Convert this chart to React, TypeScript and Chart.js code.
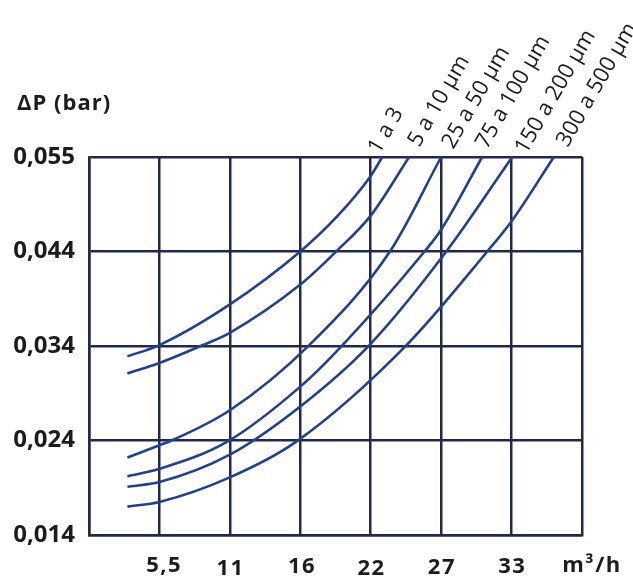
import { useEffect, useRef } from "react";
import { Chart, registerables } from "chart.js";

Chart.register(...registerables);

// Series names (filtration grades)
const seriesNames = ["1 a 3", "5 a 10 µm", "25 a 50 µm", "75 a 100 µm", "150 a 200 µm", "300 a 500 µm"];

// Flow (m³/h, axis units) and pressure drop (bar) for each curve
const flow1 = [3.0, 5.5, 11, 16.5, 19.3, 22, 22.9];
const dp1 = [0.0329, 0.0341, 0.0384, 0.044, 0.0476, 0.052, 0.054];

const flow2 = [3.0, 5.5, 8.9, 11, 16.5, 19.3, 22, 25.0];
const dp2 = [0.0311, 0.0322, 0.0341, 0.0354, 0.0405, 0.044, 0.0478, 0.054];

const flow3 = [3.0, 5.5, 6.45, 11, 17.2, 23.5, 27.5];
const dp3 = [0.0222, 0.0235, 0.024, 0.0272, 0.0341, 0.044, 0.054];

const flow4 = [3.0, 5.5, 10.7, 16.5, 19.8, 26.2, 27.5, 30.7];
const dp4 = [0.0202, 0.021, 0.0238, 0.0297, 0.0341, 0.044, 0.0463, 0.054];

const flow5 = [3.0, 5.5, 11, 16.5, 21.9, 27.9, 33.05];
const dp5 = [0.0191, 0.0196, 0.0225, 0.0276, 0.0341, 0.044, 0.054];

const flow6 = [3.0, 5.5, 11, 16.1, 24.8, 31.1, 33.0, 36.3];
const dp6 = [0.017, 0.0175, 0.0201, 0.0238, 0.0341, 0.044, 0.0472, 0.054];

const flows = [flow1, flow2, flow3, flow4, flow5, flow6];
const dps = [dp1, dp2, dp3, dp4, dp5, dp6];

// Axis ticks
const xGridValues = [0, 5.5, 11, 16.5, 22, 27.5, 33, 38.5];
const xTickValues = [5.5, 11, 16.5, 22, 27.5, 33];
const xTickLabels = ["5,5", "11", "16", "22", "27", "33"];
const yTickValues = [0.014, 0.024, 0.034, 0.044, 0.054];
const yTickLabels = ["0,014", "0,024", "0,034", "0,044", "0,055"];
const xUnit = "m³/h";
const yTitle = "ΔP (bar)";

// Styles (not data)
const GRID = "#232848";
const CURVE = "#25408a";
const TEXT = "#1c1c1c";
const xLabelDrop = [31, 34, 31.5, 34, 33, 31.5];
const xLabelShift = [4, 0, 1, 0, 0, 0];
const seriesLabelOffset = [
  [-3, -2],
  [10, -9],
  [12, -7],
  [5, -7],
  [14, -2],
  [14, -9],
];

const textPlugin = {
  id: "textPlugin",
  afterDraw(chart: any) {
    const { ctx, chartArea } = chart;
    const xs = chart.scales.x;
    ctx.save();
    ctx.fillStyle = TEXT;
    // Y title
    ctx.font = "bold 22px 'Open Sans'";
    (ctx as any).letterSpacing = "1px";
    ctx.textAlign = "left";
    ctx.textBaseline = "middle";
    ctx.fillText(yTitle, 17, 104);
    // X tick labels
    ctx.font = "bold 22px 'Open Sans'";
    (ctx as any).letterSpacing = "1.5px";
    ctx.textAlign = "center";
    xTickLabels.forEach((t, i) => {
      ctx.fillText(
        t,
        xs.getPixelForValue(xTickValues[i]) + xLabelShift[i] + 0.75,
        chartArea.bottom + xLabelDrop[i]
      );
    });
    ctx.fillText(xUnit, chartArea.right + 10, chartArea.bottom + 31);
    // Series labels
    (ctx as any).letterSpacing = "0px";
    ctx.font = "22px 'Open Sans'";
    ctx.textAlign = "left";
    ctx.textBaseline = "alphabetic";
    seriesNames.forEach((name, i) => {
      const f = flows[i];
      const px = xs.getPixelForValue(f[f.length - 1]) + seriesLabelOffset[i][0];
      const py = chartArea.top + seriesLabelOffset[i][1];
      ctx.save();
      ctx.translate(px, py);
      ctx.rotate(-Math.PI / 3);
      ctx.fillText(name, 0, 0);
      ctx.restore();
    });
    ctx.restore();
  },
};

export default function App() {
  const ref = useRef<HTMLCanvasElement | null>(null);

  useEffect(() => {
    if (!ref.current) return;
    const datasets = seriesNames.map((name, i) => ({
      label: name,
      data: flows[i].map((x, j) => ({ x, y: dps[i][j] })),
      borderColor: CURVE,
      borderWidth: 2.6,
      pointRadius: 0,
      fill: false,
      cubicInterpolationMode: "monotone" as const,
      clip: false as any,
    }));
    const chart = new Chart(ref.current, {
      type: "line",
      data: { datasets },
      options: {
        responsive: false,
        animation: false,
        layout: { padding: { top: 157, right: 51, left: 0, bottom: 0 } },
        plugins: { legend: { display: false }, tooltip: { enabled: false } },
        scales: {
          x: {
            type: "linear",
            min: 0,
            max: 38.5,
            afterBuildTicks: (s: any) => {
              s.ticks = xGridValues.map((v) => ({ value: v }));
            },
            afterFit: (s: any) => {
              s.height = 43;
            },
            ticks: { display: false },
            grid: { color: GRID, lineWidth: 2.5, drawTicks: false },
            border: { color: GRID, width: 2.5 },
          },
          y: {
            type: "linear",
            min: 0.014,
            max: 0.054,
            afterBuildTicks: (s: any) => {
              s.ticks = yTickValues.map((v) => ({ value: v }));
            },
            afterFit: (s: any) => {
              s.width = 89;
            },
            ticks: {
              padding: 14,
              color: TEXT,
              font: { family: "'Open Sans'", size: 24, weight: "bold" },
              callback: (_v: any, i: number) => yTickLabels[i],
            },
            grid: { color: GRID, lineWidth: 2.5, drawTicks: false },
            border: { color: GRID, width: 2.5 },
          },
        },
      },
      plugins: [textPlugin],
    });
    return () => chart.destroy();
  }, []);

  return (
    <div style={{ position: "absolute", left: 0, top: 0, width: 633, height: 578, background: "#fff" }}>
      <canvas ref={ref} width={633} height={578} style={{ display: "block" }} />
    </div>
  );
}
